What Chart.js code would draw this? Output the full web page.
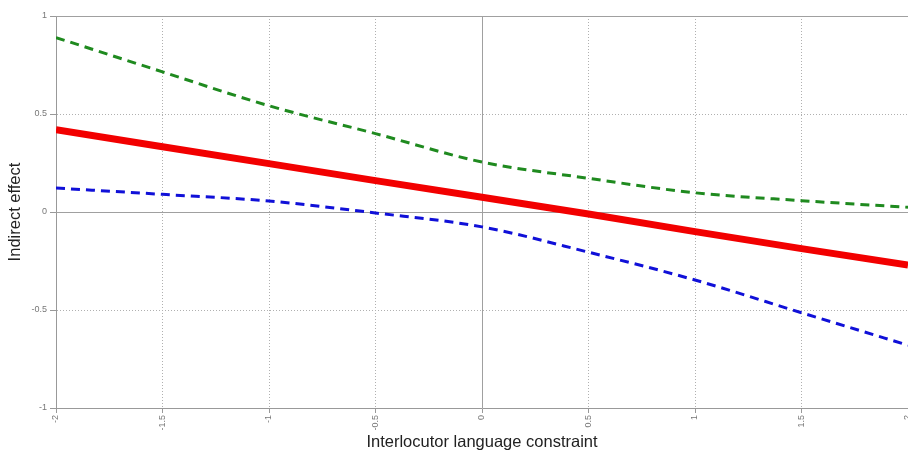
<!DOCTYPE html>
<html>
<head>
<meta charset="utf-8">
<script src="https://cdn.jsdelivr.net/npm/chart.js@4"></script>
<style>
  body { margin: 0; background: #fff; }
  canvas { display: block; }
</style>
</head>
<body>
<canvas id="chart" width="908" height="452"></canvas>
<script>
// moderator values (x axis)
const constraint = [-2, -1.5, -1, -0.5, 0, 0.5, 1, 1.5, 2];
// indirect effect estimate and confidence band
const effect = [0.42, 0.333, 0.247, 0.16, 0.075, -0.01, -0.10, -0.187, -0.27];
const upperBound = [0.89, 0.715, 0.542, 0.40, 0.255, 0.172, 0.098, 0.058, 0.024];
const lowerBound = [0.122, 0.09, 0.056, -0.005, -0.076, -0.205, -0.347, -0.514, -0.68];
const xTicks = [-2, -1.5, -1, -0.5, 0, 0.5, 1, 1.5, 2];
const yTicks = [-1, -0.5, 0, 0.5, 1];

function points(ys) {
  return constraint.map((x, i) => ({ x: x, y: ys[i] }));
}

// solid zero lines + top frame, drawn under the data
const frameLines = {
  id: 'frameLines',
  beforeDatasetsDraw(chart) {
    const { ctx, chartArea, scales } = chart;
    const x0 = scales.x.getPixelForValue(0);
    const y0 = scales.y.getPixelForValue(0);
    ctx.save();
    ctx.strokeStyle = '#a0a0a0';
    ctx.lineWidth = 1;
    ctx.beginPath();
    ctx.moveTo(Math.round(x0) + 0.5, chartArea.top);
    ctx.lineTo(Math.round(x0) + 0.5, chartArea.bottom);
    ctx.moveTo(chartArea.left, Math.round(y0) + 0.5);
    ctx.lineTo(chartArea.right, Math.round(y0) + 0.5);
    ctx.moveTo(chartArea.left, chartArea.top + 0.5);
    ctx.lineTo(chartArea.right, chartArea.top + 0.5);
    ctx.stroke();
    ctx.restore();
  }
};

const tickFont = { family: 'Liberation Sans, Arial', size: 9 };
const titleFont = { family: 'Liberation Sans, Arial', size: 16.5 };

new Chart('chart', {
  type: 'line',
  data: {
    datasets: [
      {
        data: points(upperBound),
        borderColor: '#1f8a1f',
        borderWidth: 3,
        borderDash: [9, 6],
        cubicInterpolationMode: 'monotone',
        pointRadius: 0,
        fill: false,
      },
      {
        data: points(lowerBound),
        borderColor: '#1010d8',
        borderWidth: 3,
        borderDash: [9, 6],
        cubicInterpolationMode: 'monotone',
        pointRadius: 0,
        fill: false,
      },
      {
        data: points(effect),
        borderColor: '#f20000',
        borderWidth: 7,
        pointRadius: 0,
        fill: false,
      },
    ],
  },
  options: {
    responsive: false,
    animation: false,
    layout: { padding: { top: 16, right: 0, left: 0, bottom: 0 } },
    plugins: { legend: { display: false }, tooltip: { enabled: false } },
    scales: {
      x: {
        type: 'linear',
        min: -2,
        max: 2,
        afterBuildTicks(scale) { scale.ticks = xTicks.map(v => ({ value: v })); },
        afterFit(scale) {
          scale.height = 44;
          scale.paddingLeft = 0;
          scale.paddingRight = 0;
        },
        ticks: {
          minRotation: 90,
          maxRotation: 90,
          padding: 2,
          color: '#777',
          font: tickFont,
          callback: v => String(v),
        },
        grid: { color: '#b0b0b0', tickColor: '#999', tickLength: 5 },
        border: { color: '#999', dash: [1, 2] },
        title: {
          display: true,
          text: 'Interlocutor language constraint',
          color: '#222',
          font: titleFont,
          padding: { top: 0, bottom: 0 },
        },
      },
      y: {
        min: -1,
        max: 1,
        afterBuildTicks(scale) { scale.ticks = yTicks.map(v => ({ value: v })); },
        afterFit(scale) { scale.width = 56; },
        ticks: {
          padding: 3,
          color: '#777',
          font: tickFont,
          callback: v => String(v),
        },
        grid: { color: '#b0b0b0', tickColor: '#999', tickLength: 6 },
        border: { color: '#999', dash: [1, 2] },
        title: {
          display: true,
          text: 'Indirect effect',
          color: '#222',
          font: titleFont,
          padding: { top: 6, bottom: 0 },
        },
      },
    },
  },
  plugins: [frameLines],
});
</script>
</body>
</html>
